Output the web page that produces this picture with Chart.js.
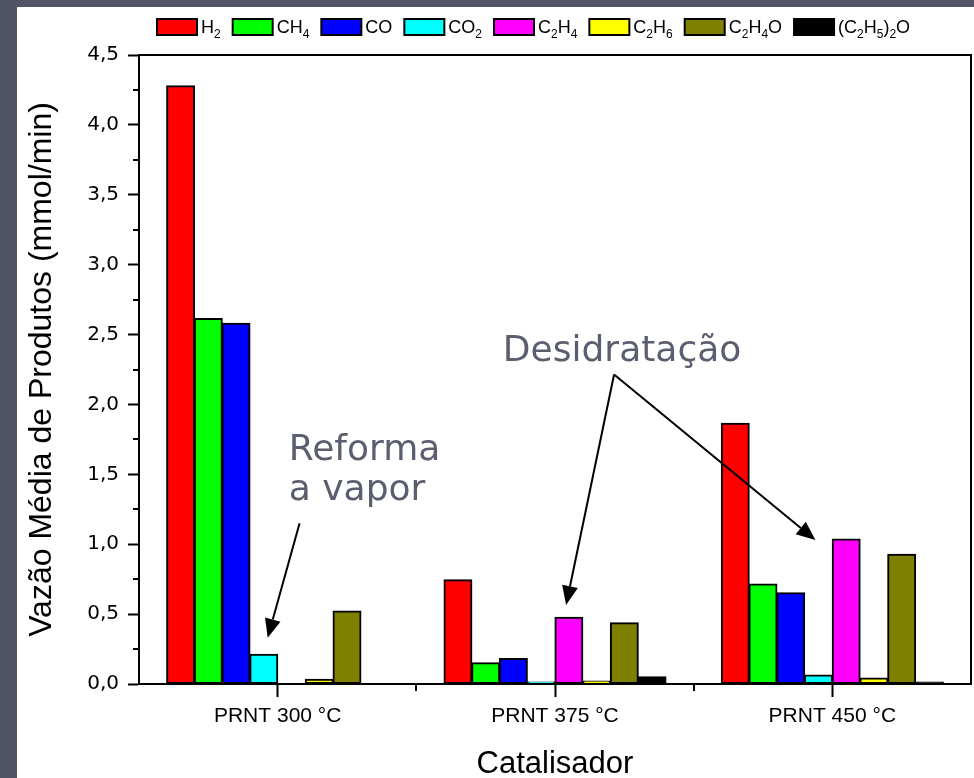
<!DOCTYPE html>
<html>
<head>
<meta charset="utf-8">
<script src="https://cdn.jsdelivr.net/npm/chart.js@4"></script>
<style>
  html, body { margin: 0; padding: 0; background: #515465; width: 974px; height: 778px; overflow: hidden; }
  #panel { position: absolute; left: 17px; top: 7px; width: 957px; height: 771px; background: #fff; }
</style>
</head>
<body>
<div id="panel"><canvas id="chart" width="957" height="771"></canvas></div>
<script>
// data
const categories = ['PRNT 300 °C', 'PRNT 375 °C', 'PRNT 450 °C']
const seriesNames = ['H_2', 'CH_4', 'CO', 'CO_2', 'C_2H_4', 'C_2H_6', 'C_2H_4O', '(C_2H_5)_2O']
const seriesColors = ['#ff0000', '#00ff00', '#0000ff', '#00ffff', '#ff00ff', '#ffff00', '#808000', '#000000']

const h2 = [4.28, 0.745, 1.865]
const ch4 = [2.615, 0.152, 0.714]
const co = [2.58, 0.181, 0.652]
const co2 = [0.212, 0.014, 0.064]
const c2h4 = [0, 0.476, 1.036]
const c2h6 = [0.034, 0.021, 0.042]
const c2h4o = [0.521, 0.438, 0.928]
const ether = [0, 0.052, 0.014]

const yMin = 0
const yMax = 4.5
const yStep = 0.5

const seriesValues = [h2, ch4, co, co2, c2h4, c2h6, c2h4o, ether]

// annotations (x in category units, y in data units)
const notes = [
  { text: 'Reforma', cat: 0.04, val: 1.6 },
  { text: 'a vapor', cat: 0.04, val: 1.315 },
  { text: 'Desidratação', cat: 0.812, val: 2.314 }
]
const arrows = [
  { from: [0.079, 1.15], to: [-0.036, 0.33] },
  { from: [1.213, 2.214], to: [1.04, 0.565] },
  { from: [1.213, 2.214], to: [1.939, 1.03] }
]

const sans = '"Liberation Sans", Arial, sans-serif'

function drawSub(ctx, label, x, y, size, subSize, drop) {
  let cx = x
  for (let i = 0; i < label.length; i++) {
    const ch = label[i]
    if (ch === '_') {
      i++
      ctx.font = subSize + 'px ' + sans
      ctx.fillText(label[i], cx, y + drop)
      cx += ctx.measureText(label[i]).width
    } else {
      ctx.font = size + 'px ' + sans
      ctx.fillText(ch, cx, y)
      cx += ctx.measureText(ch).width
    }
  }
  return cx - x
}

const extrasPlugin = {
  id: 'extras',
  afterDatasetsDraw(chart) {
    const { ctx, chartArea: a, scales: { x, y } } = chart
    ctx.save()
    // frame
    ctx.strokeStyle = '#000'
    ctx.lineWidth = 2
    ctx.strokeRect(a.left, a.top, a.right - a.left, a.bottom - a.top)

    // minor ticks
    ctx.beginPath()
    for (let v = yMin + yStep / 2; v < yMax; v += yStep) {
      const py = Math.round(y.getPixelForValue(v))
      ctx.moveTo(a.left, py)
      ctx.lineTo(a.left - 6, py)
    }
    const step = x.getPixelForValue(1) - x.getPixelForValue(0)
    for (let i = 0; i < categories.length - 1; i++) {
      const px = Math.round(x.getPixelForValue(i) + step / 2)
      ctx.moveTo(px, a.bottom)
      ctx.lineTo(px, a.bottom + 7)
    }
    ctx.stroke()

    // legend
    ctx.textBaseline = 'alphabetic'
    let lx = a.left + 18
    seriesNames.forEach((name, i) => {
      ctx.fillStyle = seriesColors[i]
      ctx.fillRect(lx, 12, 40, 16)
      ctx.strokeStyle = '#000'
      ctx.lineWidth = 2
      ctx.strokeRect(lx, 12, 40, 16)
      ctx.fillStyle = '#000'
      const w = drawSub(ctx, name, lx + 44, 26, 18, 12, 5)
      lx += 44 + w + 12
    })

    // annotations
    const cx = (c) => x.getPixelForValue(0) + c * step
    ctx.fillStyle = '#5b5e6e'
    ctx.font = '36px "DejaVu Sans", Verdana, sans-serif'
    notes.forEach(n => ctx.fillText(n.text, cx(n.cat), y.getPixelForValue(n.val)))

    ctx.strokeStyle = '#000'
    ctx.fillStyle = '#000'
    ctx.lineWidth = 2
    arrows.forEach(ar => {
      const x0 = cx(ar.from[0]), y0 = y.getPixelForValue(ar.from[1])
      const x1 = cx(ar.to[0]), y1 = y.getPixelForValue(ar.to[1])
      const ang = Math.atan2(y1 - y0, x1 - x0)
      const hl = 19, hw = 8
      const bx = x1 - hl * Math.cos(ang), by = y1 - hl * Math.sin(ang)
      ctx.beginPath()
      ctx.moveTo(x0, y0)
      ctx.lineTo(bx, by)
      ctx.stroke()
      ctx.beginPath()
      ctx.moveTo(x1, y1)
      ctx.lineTo(bx + hw * Math.sin(ang), by - hw * Math.cos(ang))
      ctx.lineTo(bx - hw * Math.sin(ang), by + hw * Math.cos(ang))
      ctx.closePath()
      ctx.fill()
    })
    ctx.restore()
  }
}

new Chart(document.getElementById('chart'), {
  type: 'bar',
  data: {
    labels: categories,
    datasets: seriesNames.map((name, i) => ({
      label: name,
      data: seriesValues[i],
      backgroundColor: seriesColors[i],
      borderColor: '#000',
      borderWidth: 2,
      borderSkipped: false,
      inflateAmount: 0.6,
      categoryPercentage: 0.8,
      barPercentage: 1.0
    }))
  },
  options: {
    responsive: false,
    animation: false,
    layout: { padding: { top: 48, right: 3, left: 0, bottom: 0 } },
    plugins: {
      legend: { display: false },
      tooltip: { enabled: false }
    },
    scales: {
      x: {
        afterFit: (s) => { s.height = 94 },
        grid: {
          offset: false,
          drawOnChartArea: false,
          tickLength: 13,
          tickWidth: 2,
          tickColor: '#000'
        },
        border: { display: true, color: '#000', width: 2 },
        ticks: {
          color: '#000',
          padding: 7,
          font: { family: sans, size: 21 }
        },
        title: {
          display: true,
          text: 'Catalisador',
          color: '#000',
          padding: { top: 0, bottom: 0 },
          font: { family: sans, size: 31, lineHeight: 0.9 }
        }
      },
      y: {
        min: yMin,
        max: yMax,
        afterFit: (s) => { s.width = 122 },
        grid: {
          drawOnChartArea: false,
          tickLength: 11,
          tickWidth: 2,
          tickColor: '#000'
        },
        border: { display: true, color: '#000', width: 2 },
        ticks: {
          stepSize: yStep,
          color: '#000',
          padding: 9,
          font: { family: '"DejaVu Sans", Verdana, sans-serif', size: 20 },
          callback: (v) => v.toFixed(1).replace('.', ',')
        },
        title: {
          display: true,
          text: 'Vazão Média de Produtos (mmol/min)',
          color: '#000',
          padding: { top: 9, bottom: 0 },
          font: { family: sans, size: 32, lineHeight: 1 }
        }
      }
    }
  },
  plugins: [extrasPlugin]
})
</script>
</body>
</html>
